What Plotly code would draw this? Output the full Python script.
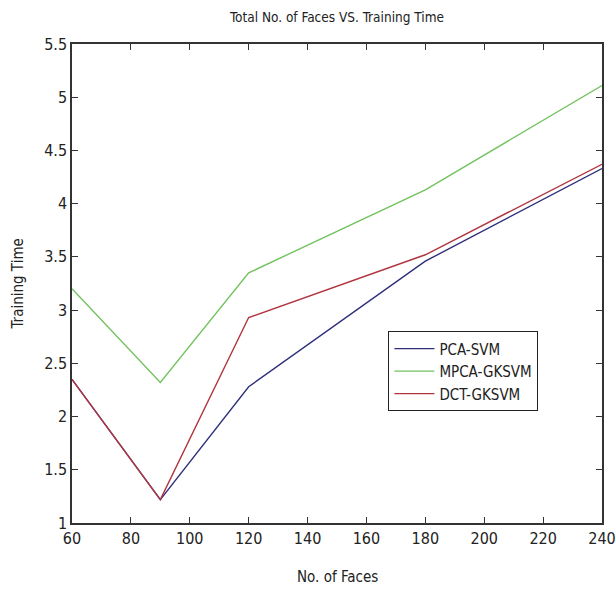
import plotly.graph_objects as go

faces = [60, 90, 120, 180, 240]
pca_svm = [2.35, 1.22, 2.28, 3.46, 4.33]
mpca_gksvm = [3.20, 2.32, 3.35, 4.13, 5.11]
dct_gksvm = [2.35, 1.22, 2.93, 3.52, 4.37]

x_ticks = [60, 80, 100, 120, 140, 160, 180, 200, 220, 240]
y_ticks = [1, 1.5, 2, 2.5, 3, 3.5, 4, 4.5, 5, 5.5]
y_labels = ["1", "1.5", "2", "2.5", "3", "3.5", "4", "4.5", "5", "5.5"]

FONT = "DejaVu Sans Condensed, Liberation Sans Narrow, Arial Narrow, sans-serif"

fig = go.Figure()
fig.add_trace(go.Scatter(x=faces, y=pca_svm, mode="lines", name="PCA-SVM",
                         line=dict(color="#2e2f7a", width=1.4)))
fig.add_trace(go.Scatter(x=faces, y=mpca_gksvm, mode="lines", name="MPCA-GKSVM",
                         line=dict(color="#72c25e", width=1.4)))
fig.add_trace(go.Scatter(x=faces, y=dct_gksvm, mode="lines", name="DCT-GKSVM",
                         line=dict(color="#b0353f", width=1.4)))

fig.update_layout(
    width=616, height=590,
    margin=dict(l=72, r=14, t=44, b=67, autoexpand=False),
    paper_bgcolor="white", plot_bgcolor="white",
    font=dict(family=FONT, size=16, color="#222222"),
    title=dict(text="Total No. of Faces VS. Training Time", x=0.547, xanchor="center",
               y=0.971, yanchor="middle", font=dict(size=13.5, family=FONT)),
    showlegend=True,
    legend=dict(x=0.597, y=0.4, xanchor="left", yanchor="top",
                bordercolor="#222222", borderwidth=1, bgcolor="white",
                font=dict(size=15, family=FONT), tracegroupgap=0,
                itemwidth=40),
    annotations=[
        dict(text="No. of Faces", xref="paper", yref="paper", x=0.5, y=-0.113,
             xanchor="center", yanchor="middle", showarrow=False, font=dict(size=15)),
        dict(text="Training Time", xref="paper", yref="paper", x=-0.102, y=0.5,
             xanchor="center", yanchor="middle", showarrow=False, textangle=-90,
             font=dict(size=15)),
    ],
)
fig.update_xaxes(range=[60, 240], tickvals=x_ticks, ticks="inside", ticklen=6,
                 tickcolor="#333333", showline=True, linecolor="#333333", linewidth=1.5,
                 mirror="ticks", showgrid=False, zeroline=False, tickfont=dict(size=16),
                 automargin=False)
fig.update_yaxes(range=[1, 5.5], tickvals=y_ticks, ticktext=y_labels, ticks="inside", ticklen=6,
                 tickcolor="#333333", showline=True, linecolor="#333333", linewidth=1.5,
                 mirror="ticks", showgrid=False, zeroline=False, tickfont=dict(size=16),
                 automargin=False)

fig.write_html("out.html")
